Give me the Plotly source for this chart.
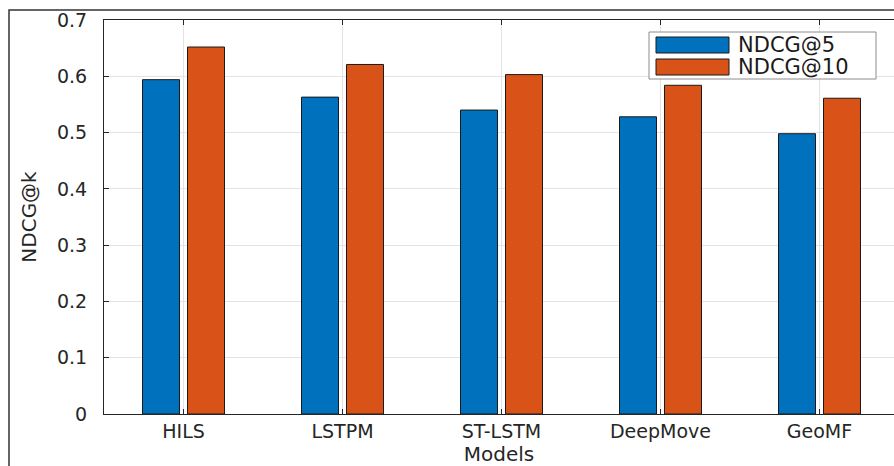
import plotly.graph_objects as go

models = ["HILS", "LSTPM", "ST-LSTM", "DeepMove", "GeoMF"]
series_names = ["NDCG@5", "NDCG@10"]
ndcg5 = [0.594, 0.563, 0.540, 0.528, 0.498]
ndcg10 = [0.652, 0.621, 0.603, 0.584, 0.561]
colors = ["#0072BD", "#D95319"]
y_ticks = [0, 0.1, 0.2, 0.3, 0.4, 0.5, 0.6, 0.7]

W, H = 894, 466
L, R, T, B = 104, 0, 20, 52
pw, ph = W - L - R, H - T - B
cat_px = 159.0  # pixels per category

xs = list(range(1, len(models) + 1))
font = "DejaVu Sans, Verdana, sans-serif"


def px_x(p):
    return (p - L) / pw


def px_y(p):
    return (H - B - p) / ph


bar_w = 37 / cat_px
offsets = [-41 / cat_px, 4 / cat_px]

fig = go.Figure()
for name, vals, col, off in zip(series_names, [ndcg5, ndcg10], colors, offsets):
    fig.add_trace(go.Bar(x=xs, y=vals, name=name, showlegend=False,
                         width=bar_w, offset=off,
                         marker=dict(color=col, line=dict(color="#1a1a1a", width=1))))

fig.update_layout(
    width=W, height=H,
    margin=dict(l=L, r=R, t=T, b=B, autoexpand=False),
    paper_bgcolor="white", plot_bgcolor="white",
    barmode="overlay",
    font=dict(family=font, size=19, color="#262626"),
    xaxis=dict(
        range=[0.5, 0.5 + pw / cat_px],
        tickmode="array", tickvals=xs, ticktext=models,
        ticks="inside", ticklen=5, tickcolor="#262626",
        showline=True, linecolor="#262626", linewidth=1, mirror="ticks",
        showgrid=True, gridcolor="#e3e3e3", gridwidth=1,
        zeroline=False, ticklabelstandoff=0,
        title=dict(text="Models", standoff=10, font=dict(size=20)),
        tickfont=dict(size=19),
    ),
    yaxis=dict(
        range=[0, 0.7],
        tickmode="array", tickvals=y_ticks, ticktext=[f"{v:g}" for v in y_ticks],
        ticks="inside", ticklen=5, tickcolor="#262626",
        showline=True, linecolor="#262626", linewidth=1, mirror=False,
        showgrid=True, gridcolor="#e3e3e3", gridwidth=1,
        zeroline=False, ticklabelstandoff=12,
        title=dict(text="NDCG@k", standoff=14, font=dict(size=20)),
        tickfont=dict(size=19),
    ),
)

# legend box drawn to match the wide MATLAB swatches
fig.add_shape(type="rect", xref="paper", yref="paper",
              x0=px_x(649), x1=px_x(876), y0=px_y(79), y1=px_y(32),
              line=dict(color="#8c8c8c", width=1), fillcolor="white", layer="above")
for i, (name, col) in enumerate(zip(series_names, colors)):
    top = 37 + 22 * i
    fig.add_shape(type="rect", xref="paper", yref="paper",
                  x0=px_x(656), x1=px_x(729), y0=px_y(top + 16), y1=px_y(top),
                  line=dict(color="#1a1a1a", width=1), fillcolor=col, layer="above")
    fig.add_annotation(xref="paper", yref="paper", x=px_x(736), y=px_y(top + 8),
                       xanchor="left", yanchor="middle", showarrow=False,
                       text=name, font=dict(size=21, color="#1a1a1a"))

# outer figure frame (partly cropped in reference)
fig.add_shape(type="rect", xref="paper", yref="paper",
              x0=px_x(9), x1=px_x(W + 6), y0=px_y(H + 6), y1=px_y(10),
              line=dict(color="#333333", width=1.5), fillcolor="rgba(0,0,0,0)",
              layer="above")

fig.write_html("out.html")
